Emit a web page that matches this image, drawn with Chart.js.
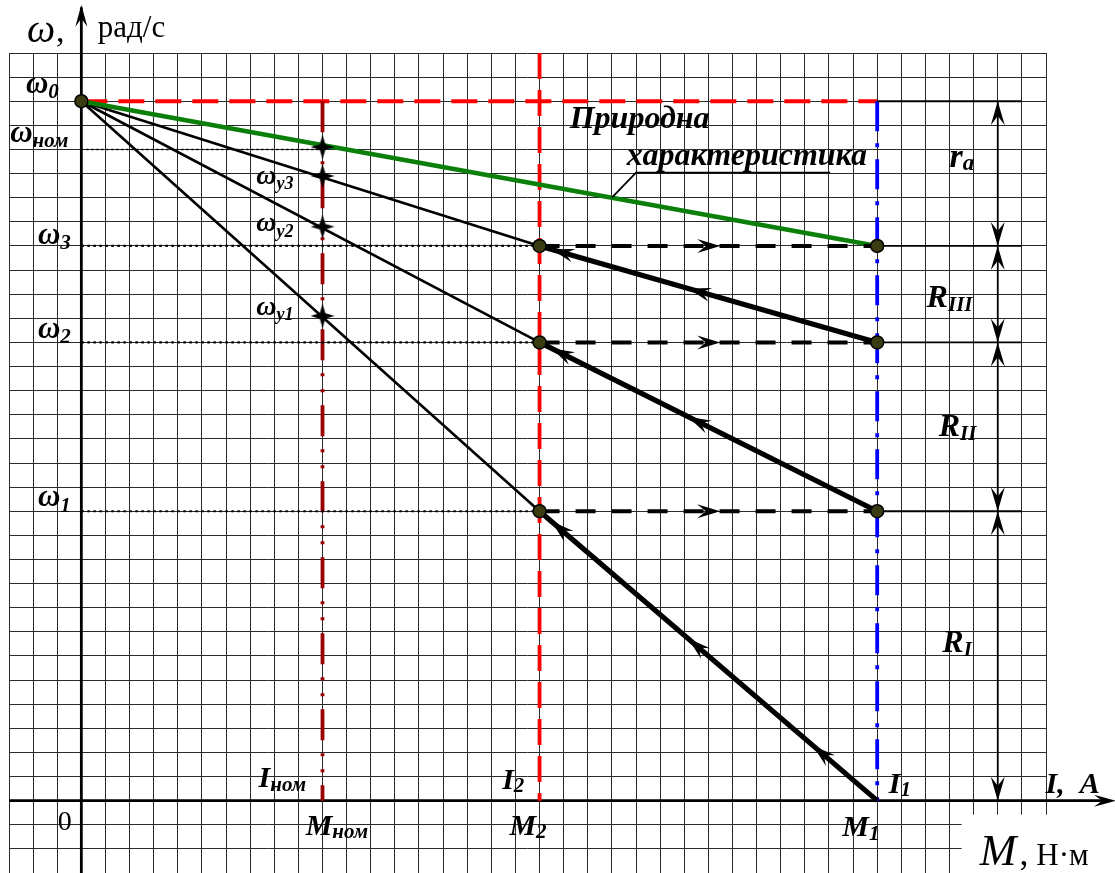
<!DOCTYPE html>
<html>
<head>
<meta charset="utf-8">
<script src="https://cdn.jsdelivr.net/npm/chart.js@4"></script>
<style>
  body { margin: 0; background: #fff; }
  canvas { display: block; }
</style>
</head>
<body>
<canvas id="chart" width="1115" height="873"></canvas>
<script>
// Torque values (grid cells): Mном, M2, M1
const M_NOM = 10;
const M_2 = 19;
const M_1 = 33;

// Speeds (grid cells)
const OMEGA_0 = 29;
const OMEGA_NOM = 27;
const naturalEndSpeed = 23;          // natural characteristic at M1 (= ω3)
const switchSpeeds = [12, 19, 23];   // ω1, ω2, ω3 reached at M2 on R_I, R_II, R_III
const startSpeeds = [0, 12, 19];     // speed at M1 when each stage is switched in
const crossSpeeds = [27.1, 25.9, 23.8, 20.1]; // ωном, ωу3, ωу2, ωу1 at Mном

// where the direction arrows sit along each starting segment (0 = at M1, 1 = at M2)
const stageArrows = [[0.19, 0.56, 0.965], [0.56, 0.965], [0.56, 0.965]];
const jumpArrow = 0.535;

// Dimension column on the right
const dimLevels = [OMEGA_0, 23, 19, 12, 0];

const SERIF = '"Liberation Serif", "Times New Roman", serif';

// four-pointed star used for the points on the Mном line
const star = document.createElement('canvas');
star.width = star.height = 24;
(() => {
    const c = star.getContext('2d');
    c.fillStyle = '#000';
    c.beginPath();
    c.moveTo(12, 0);
    c.lineTo(14.8, 9.2);
    c.lineTo(24, 12);
    c.lineTo(14.8, 14.8);
    c.lineTo(12, 24);
    c.lineTo(9.2, 14.8);
    c.lineTo(0, 12);
    c.lineTo(9.2, 9.2);
    c.closePath();
    c.fill();
})();

const seg = (x0, y0, x1, y1) => [{ x: x0, y: y0 }, { x: x1, y: y1 }];

const datasets = [];

// nodes (drawn on top)
const nodes = [{ x: 0, y: OMEGA_0 }];
switchSpeeds.forEach(s => nodes.push({ x: M_2, y: s }));
[naturalEndSpeed, ...startSpeeds.slice(1)].forEach(s => nodes.push({ x: M_1, y: s }));
datasets.push({
    data: nodes, showLine: false, pointRadius: 6.5,
    pointBackgroundColor: '#3b3b12', pointBorderColor: '#000', pointBorderWidth: 1.5
});
datasets.push({
    data: crossSpeeds.map(s => ({ x: M_NOM, y: s })), showLine: false,
    pointStyle: star, pointRadius: 12
});

// heavy starting segments M1 -> M2
startSpeeds.forEach((s, i) => {
    datasets.push({ data: seg(M_1, s, M_2, switchSpeeds[i]), showLine: true,
        borderColor: '#000', borderWidth: 5.2, pointRadius: 0 });
});

// dashed jumps M2 -> M1 at ω1, ω2, ω3
switchSpeeds.forEach(s => {
    datasets.push({ data: seg(M_2, s, M_1, s), showLine: true,
        borderColor: '#000', borderWidth: 4, borderDash: [20, 16], pointRadius: 0 });
});

// natural characteristic
datasets.push({ data: seg(0, OMEGA_0, M_1, naturalEndSpeed), showLine: true,
    borderColor: '#0a800a', borderWidth: 4.5, pointRadius: 0 });

// rheostat characteristics from ω0
switchSpeeds.forEach(s => {
    datasets.push({ data: seg(0, OMEGA_0, M_2, s), showLine: true,
        borderColor: '#000', borderWidth: 2.6, pointRadius: 0 });
});

// dotted speed guides
datasets.push({ data: seg(0, OMEGA_NOM, M_NOM, OMEGA_NOM), showLine: true,
    borderColor: '#000', borderWidth: 1.6, borderDash: [2, 3], pointRadius: 0 });
switchSpeeds.forEach(s => {
    datasets.push({ data: seg(0, s, M_2, s), showLine: true,
        borderColor: '#000', borderWidth: 2.2, borderDash: [2.5, 3.5], pointRadius: 0 });
});

// thin extension lines to the dimension column
dimLevels.slice(0, 4).forEach(s => {
    datasets.push({ data: seg(M_1, s, 39, s), showLine: true,
        borderColor: '#000', borderWidth: 1.8, pointRadius: 0 });
});

// M1 and Mном guides (dash-dot), M2 and ω0 guides (dashed)
datasets.push({ data: seg(M_1, OMEGA_0, M_1, 0), showLine: true,
    borderColor: '#0000ff', borderWidth: 3.8, borderDash: [30, 12, 4, 12], pointRadius: 0 });
datasets.push({ data: seg(M_NOM, OMEGA_0, M_NOM, 0), showLine: true,
    borderColor: '#9a0000', borderWidth: 3.8, borderDash: [31, 13, 3, 13, 3, 13], pointRadius: 0 });
datasets.push({ data: seg(0, OMEGA_0, M_1, OMEGA_0), showLine: true,
    borderColor: '#ff0000', borderWidth: 3.8, borderDash: [26, 11], pointRadius: 0 });
datasets.push({ data: seg(M_2, 31, M_2, 0), showLine: true,
    borderColor: '#ff0000', borderWidth: 3.8, borderDash: [26, 11], pointRadius: 0 });

function stealth(ctx, x, y, ang, len = 20, half = 6) {
    const dx = Math.cos(ang), dy = Math.sin(ang);
    ctx.beginPath();
    ctx.moveTo(x, y);
    ctx.lineTo(x - len * dx - half * dy, y - len * dy + half * dx);
    ctx.lineTo(x - 0.62 * len * dx, y - 0.62 * len * dy);
    ctx.lineTo(x - len * dx + half * dy, y - len * dy - half * dx);
    ctx.closePath();
    ctx.fill();
}

function label(ctx, main, sub, x, y, size, subSize, style = 'bold italic', subDrop = 0.18) {
    ctx.font = `${style} ${size}px ${SERIF}`;
    ctx.fillText(main, x, y);
    if (!sub) return;
    const w = ctx.measureText(main).width;
    ctx.font = `${style} ${subSize}px ${SERIF}`;
    ctx.fillText(sub, x + w, y + size * subDrop);
}

const drawing = {
    id: 'drawing',
    beforeDatasetsDraw(chart) {
        const { ctx, scales: { x, y } } = chart;
        const px = v => x.getPixelForValue(v), py = v => y.getPixelForValue(v);
        ctx.save();
        // blank corner under the torque unit
        ctx.fillStyle = '#fff';
        ctx.fillRect(px(36.5), py(-0.58), chart.width, chart.height);
        // axes
        ctx.strokeStyle = '#000';
        ctx.fillStyle = '#000';
        ctx.lineWidth = 2.8;
        ctx.beginPath();
        ctx.moveTo(px(0), chart.height);
        ctx.lineTo(px(0), py(32.9));
        ctx.moveTo(chart.chartArea.left, py(0));
        ctx.lineTo(px(42.6), py(0));
        ctx.stroke();
        stealth(ctx, px(0), py(33.0), -Math.PI / 2, 22, 6);
        stealth(ctx, px(42.9), py(0), 0, 22, 6);
        ctx.restore();
    },
    afterDatasetsDraw(chart) {
        const { ctx, scales: { x, y } } = chart;
        const px = v => x.getPixelForValue(v), py = v => y.getPixelForValue(v);
        ctx.save();
        ctx.fillStyle = '#000';
        ctx.strokeStyle = '#000';

        // direction arrows on the starting segments
        startSpeeds.forEach((s, i) => {
            const x0 = px(M_1), y0 = py(s), x1 = px(M_2), y1 = py(switchSpeeds[i]);
            const ang = Math.atan2(y1 - y0, x1 - x0);
            stageArrows[i].forEach(t => {
                stealth(ctx, x0 + t * (x1 - x0), y0 + t * (y1 - y0), ang, 23, 7);
            });
        });
        switchSpeeds.forEach(s => {
            stealth(ctx, px(M_2 + jumpArrow * (M_1 - M_2)), py(s), 0, 23, 7);
        });

        // dimension column
        const dx = px(38);
        ctx.lineWidth = 1.8;
        ctx.beginPath();
        ctx.moveTo(dx, py(OMEGA_0));
        ctx.lineTo(dx, py(0));
        ctx.stroke();
        dimLevels.forEach((lv, i) => {
            if (i > 0) stealth(ctx, dx, py(lv), Math.PI / 2, 24, 7);
            if (i < dimLevels.length - 1) stealth(ctx, dx, py(lv), -Math.PI / 2, 24, 7);
        });

        // leader of the natural characteristic caption
        ctx.lineWidth = 1.8;
        ctx.beginPath();
        ctx.moveTo(px(31.05), py(26.04));
        ctx.lineTo(px(23.0), py(26.04));
        ctx.lineTo(px(22.0), py(25.0));
        ctx.stroke();

        // texts
        ctx.textBaseline = 'alphabetic';
        label(ctx, 'ω', null, px(-2.25), py(31.45), 40, 0, 'italic');
        ctx.font = `34px ${SERIF}`;
        ctx.fillText(',', px(-1.05), py(31.45));
        ctx.font = `31px ${SERIF}`;
        ctx.fillText('рад/с', px(0.68), py(31.65));

        label(ctx, 'ω', '0', px(-2.3), py(29.35), 31, 21);
        label(ctx, 'ω', 'ном', px(-2.95), py(27.32), 31, 21);
        label(ctx, 'ω', '3', px(-1.8), py(23.1), 31, 21);
        label(ctx, 'ω', '2', px(-1.8), py(19.2), 31, 21);
        label(ctx, 'ω', '1', px(-1.8), py(12.2), 31, 21);
        label(ctx, 'ω', 'у3', px(7.25), py(25.55), 28, 18);
        label(ctx, 'ω', 'у2', px(7.25), py(23.6), 28, 18);
        label(ctx, 'ω', 'у1', px(7.25), py(20.15), 28, 18);

        ctx.font = `bold italic 32px ${SERIF}`;
        ctx.fillText('Природна', px(20.25), py(27.9));
        ctx.fillText('характеристика', px(22.62), py(26.37));

        label(ctx, 'r', 'a', px(36.0), py(26.28), 34, 23, 'bold italic', 0.1);
        label(ctx, 'R', 'III', px(35.05), py(20.45), 32, 21, 'bold italic', 0.12);
        label(ctx, 'R', 'II', px(35.55), py(15.1), 32, 21, 'bold italic', 0.12);
        label(ctx, 'R', 'I', px(35.7), py(6.15), 32, 21, 'bold italic', 0.12);

        label(ctx, 'I', 'ном', px(7.35), py(0.55), 30, 21, 'bold italic', 0.12);
        label(ctx, 'I', '2', px(17.45), py(0.5), 30, 21, 'bold italic', 0.1);
        label(ctx, 'I', '1', px(33.48), py(0.3), 30, 21, 'bold italic', 0.1);
        ctx.font = `bold italic 30px ${SERIF}`;
        ctx.fillText('I,  A', px(39.98), py(0.33));

        ctx.font = `28px ${SERIF}`;
        ctx.fillText('0', px(-0.98), py(-1.2));
        label(ctx, 'M', 'ном', px(9.3), py(-1.42), 30, 21, 'bold italic', 0.12);
        label(ctx, 'M', '2', px(17.75), py(-1.42), 30, 21, 'bold italic', 0.12);
        label(ctx, 'M', '1', px(31.55), py(-1.48), 30, 21, 'bold italic', 0.12);
        ctx.font = `italic 44px ${SERIF}`;
        ctx.fillText('M', px(37.25), py(-2.65));
        ctx.font = `36px ${SERIF}`;
        ctx.fillText(',', px(38.9), py(-2.65));
        ctx.font = `31px ${SERIF}`;
        ctx.fillText('Н·м', px(39.6), py(-2.65));
        ctx.restore();
    }
};

// grid only: the scales take no room of their own
const gridAxis = (min, max, horizontal) => ({
    type: 'linear', min, max,
    border: { display: false },
    grid: { color: '#2a2a2a', lineWidth: 1, drawTicks: false },
    ticks: { display: false, stepSize: 1, maxTicksLimit: 100, autoSkip: false },
    afterFit(scale) {
        if (horizontal) scale.height = 0; else scale.width = 0;
    }
});

new Chart(document.getElementById('chart'), {
    type: 'scatter',
    data: { datasets },
    options: {
        responsive: false,
        animation: false,
        layout: { autoPadding: false, padding: { left: 9, right: 69, top: 53, bottom: 0 } },
        elements: { line: { tension: 0 } },
        plugins: { legend: { display: false }, tooltip: { enabled: false } },
        scales: { x: gridAxis(-3, 40, true), y: gridAxis(-3, 31, false) }
    },
    plugins: [drawing]
});
</script>
</body>
</html>
